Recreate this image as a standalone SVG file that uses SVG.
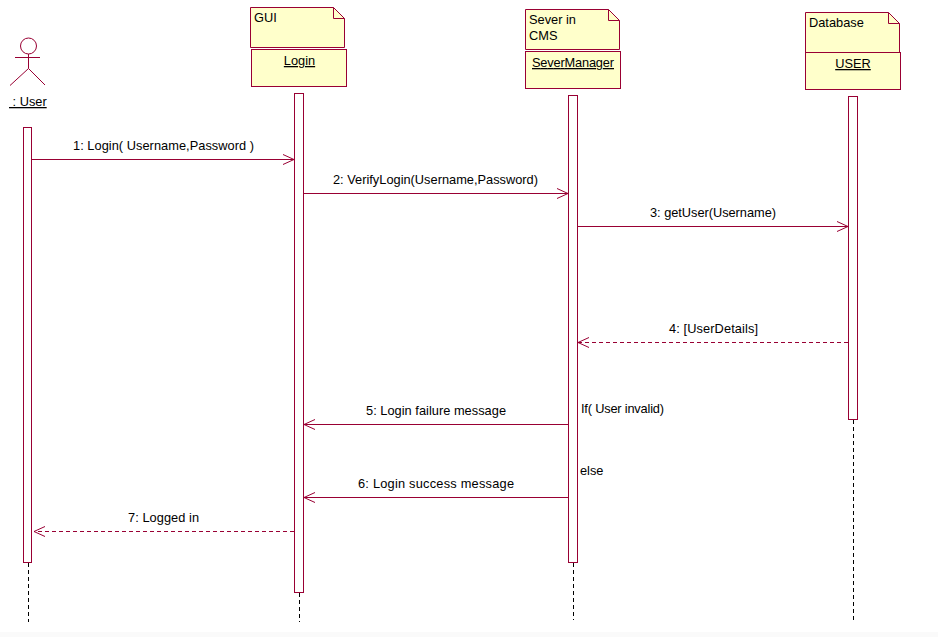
<svg xmlns="http://www.w3.org/2000/svg" width="938" height="637" viewBox="0 0 938 637">
<style>
.s{fill:none;stroke:#990033;stroke-width:1}
.b{fill:#ffffcb;stroke:#990033;stroke-width:1}
.a{fill:#fff;stroke:#990033;stroke-width:1}
.l{fill:none;stroke:#000;stroke-width:1;stroke-dasharray:4 3}
.d{stroke-dasharray:4 3}
text{font-family:"Liberation Sans",Arial,sans-serif;font-size:12.8px;fill:#000;white-space:pre}
.u{text-decoration:underline}
.m{text-anchor:middle}
</style>
<defs>
<marker id="o" markerUnits="userSpaceOnUse" markerWidth="13" markerHeight="13" refX="11" refY="6" orient="auto"><path d="M0 1 L11 6 L0 11" fill="none" stroke="#990033"/></marker>
</defs>
<rect x="0" y="632" width="938" height="5" fill="#fafafa"/>
<g id="lifelines">
<path class="l" d="M28.5 563V622M299.5 593V622M573.5 563V620M853.5 420V620"/>
</g>
<g id="user">
<circle class="s" cx="28.5" cy="46" r="8"/>
<path class="s" d="M15 57.5H40M28.5 54V68.5M10 85.500L28.500 68.500L45 85"/>
<text class="u" x="9" y="106"> : User</text>
<rect class="a" x="23.500" y="127.500" width="8" height="435"/>
</g>
<g id="login">
<path class="b" d="M250.500 7.500H333.500L344.500 18.500V47.500H250.500Z"/>
<path class="s" d="M333.500 7.500V18.500H344.500"/>
<text x="254" y="22">GUI</text>
<rect class="b" x="251.500" y="49.500" width="95" height="37"/>
<text class="u m" x="299.500" y="65">Login</text>
<rect class="a" x="294.500" y="93.500" width="9" height="499"/>
</g>
<g id="severmanager">
<path class="b" d="M525.500 9.500H608.500L619.500 20.500V49.500H525.500Z"/>
<path class="s" d="M608.500 9.500V20.500H619.500"/>
<text x="529" y="24">Sever in</text>
<text x="529" y="40">CMS</text>
<rect class="b" x="525.500" y="51.500" width="95" height="37"/>
<text class="u" x="532" y="67" textLength="82">SeverManager</text>
<rect class="a" x="568.500" y="95.500" width="9" height="467"/>
</g>
<g id="database">
<path class="b" d="M805.500 12.500H888.500L899.500 23.500V52.500H805.500Z"/>
<path class="s" d="M888.500 12.500V23.500H899.500"/>
<text x="809" y="27">Database</text>
<rect class="b" x="805.500" y="52.500" width="95" height="37"/>
<text class="u m" x="853" y="68">USER</text>
<rect class="a" x="848.500" y="96.500" width="9" height="323"/>
</g>
<g id="connectors">
<path class="s" marker-end="url(#o)" d="M32 159.500H294"/>
<path class="s" marker-end="url(#o)" d="M304 193.500H568"/>
<path class="s" marker-end="url(#o)" d="M578 226.500H848"/>
<path class="s d" marker-end="url(#o)" d="M848 342.500H578"/>
<path class="s" marker-end="url(#o)" d="M568 424.500H304"/>
<path class="s" marker-end="url(#o)" d="M568 497.500H304"/>
<path class="s d" marker-end="url(#o)" d="M294 531.500H34"/>
</g>
<g id="labels">
<text x="73" y="150" textLength="181">1: Login( Username,Password )</text>
<text x="333" y="184" textLength="205">2: VerifyLogin(Username,Password)</text>
<text x="650" y="217" textLength="126">3: getUser(Username)</text>
<text x="669" y="333" textLength="89">4: [UserDetails]</text>
<text x="581" y="413" textLength="83">If( User invalid)</text>
<text x="366" y="415" textLength="140">5: Login failure message</text>
<text x="580" y="475">else</text>
<text x="358" y="488" textLength="156">6: Login success message</text>
<text x="128" y="522" textLength="71">7: Logged in</text>
</g>
</svg>
